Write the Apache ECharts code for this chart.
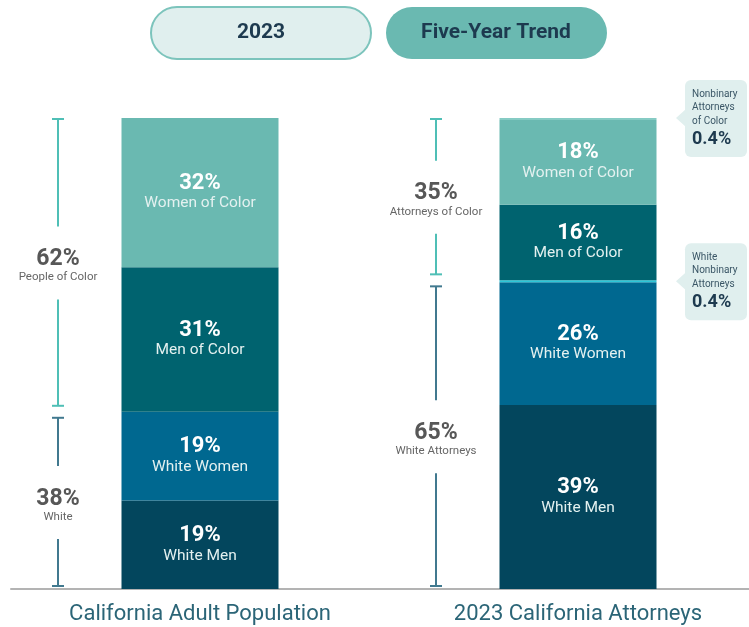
<!DOCTYPE html>
<html>
<head>
<meta charset="utf-8">
<script src="https://cdn.jsdelivr.net/npm/echarts@6/dist/echarts.min.js"></script>
<style>
  html, body { margin: 0; padding: 0; background: #fff; }
  #main { width: 749px; height: 627px; }
</style>
</head>
<body>
<div id="main"></div>
<script>
var categories = ['California Adult Population', '2023 California Attorneys'];
// shares as printed, bottom of the stack first
var whiteMen = [19, 39];
var whiteWomen = [19, 26];
var whiteNonbinary = [0, 0.4];
var menOfColor = [31, 16];
var womenOfColor = [32, 18];
var nonbinaryOfColor = [0, 0.4];
// bracket totals
var whiteShare = [38, 65];
var colorShare = [62, 35];
var whiteNames = ['White', 'White Attorneys'];
var colorNames = ['People of Color', 'Attorneys of Color'];
var calloutTitles = [['Nonbinary', 'Attorneys', 'of Color'], ['White', 'Nonbinary', 'Attorneys']];

var FONT = 'Roboto, "Noto Sans", sans-serif';

var segments = [
    { name: 'White Men', values: whiteMen, color: '#03465d', label: true },
    { name: 'White Women', values: whiteWomen, color: '#006890', label: true },
    { name: 'White Nonbinary Attorneys', values: whiteNonbinary, color: '#2cc6d8', label: false },
    { name: 'Men of Color', values: menOfColor, color: '#00636f', label: true },
    { name: 'Women of Color', values: womenOfColor, color: '#6ab9b1', label: true },
    { name: 'Nonbinary Attorneys of Color', values: nonbinaryOfColor, color: '#86cbc4', label: false }
];

// 100% stack: each bar is scaled to its own total
var totals = categories.map(function (c, i) {
    return segments.reduce(function (s, seg) { return s + seg.values[i]; }, 0);
});
var share = function (v, i) { return v / totals[i] * 100; };
var whiteTop = categories.map(function (c, i) {
    return share(whiteMen[i] + whiteWomen[i] + whiteNonbinary[i], i);
});

var barSeries = segments.map(function (seg) {
    return {
        type: 'bar',
        name: seg.name,
        stack: 'all',
        barWidth: 157,
        data: seg.values.map(share),
        itemStyle: { color: seg.color },
        label: {
            show: seg.label,
            position: 'inside',
            formatter: function (p) {
                return '{a|' + seg.values[p.dataIndex] + '%}\n{b|' + seg.name + '}';
            },
            rich: {
                a: { fontFamily: FONT, fontSize: 22, fontWeight: 'bold', color: '#ffffff', lineHeight: 22 },
                b: { fontFamily: FONT, fontSize: 15.5, color: '#e4f1f0', lineHeight: 19 }
            }
        },
        emphasis: { disabled: true },
        silent: true
    };
});

var bracketData = [];
categories.forEach(function (c, i) {
    bracketData.push([i, 0, whiteTop[i], whiteShare[i], 0]);
    bracketData.push([i, whiteTop[i], 100, colorShare[i], 1]);
});

function renderBracket(params, api) {
    var cat = api.value(0), kind = api.value(4);
    var lo = api.coord([cat, api.value(1)]);
    var hi = api.coord([cat, api.value(2)]);
    var x = hi[0] - 142;
    var y1 = hi[1] + (api.value(2) >= 99.9 ? 1 : 6);
    var y2 = lo[1] - (api.value(1) <= 0.01 ? 3 : 6);
    var mid = (y1 + y2) / 2;
    var color = kind === 1 ? '#4fbfb6' : '#41798f';
    var line = { stroke: color, lineWidth: 2 };
    var idx = params.dataIndex >> 1;
    return {
        type: 'group',
        children: [
            { type: 'line', shape: { x1: x - 6, y1: y1, x2: x + 6, y2: y1 }, style: line },
            { type: 'line', shape: { x1: x, y1: y1, x2: x, y2: mid - 36 }, style: line },
            { type: 'line', shape: { x1: x, y1: mid + 37, x2: x, y2: y2 }, style: line },
            { type: 'line', shape: { x1: x - 6, y1: y2, x2: x + 6, y2: y2 }, style: line },
            {
                type: 'text',
                style: {
                    x: x, y: mid - 3, text: api.value(3) + '%',
                    font: 'bold 23px ' + FONT, fill: '#575757',
                    align: 'center', verticalAlign: 'middle'
                }
            },
            {
                type: 'text',
                style: {
                    x: x, y: mid + 15, text: kind === 1 ? colorNames[idx] : whiteNames[idx],
                    font: '11.5px ' + FONT, fill: '#666666',
                    align: 'center', verticalAlign: 'middle'
                }
            }
        ]
    };
}

var calloutData = [
    [1, 100],
    [1, share(whiteMen[1] + whiteWomen[1] + whiteNonbinary[1] / 2, 1)]
];

function renderCallout(params, api) {
    var p = api.coord([api.value(0), api.value(1)]);
    var bx = p[0] + 107, top = p[1] - 38;
    var fill = '#e0efee';
    var lines = calloutTitles[params.dataIndex];
    var children = [
        { type: 'rect', shape: { x: bx, y: top, width: 62, height: 77, r: 6 }, style: { fill: fill } },
        { type: 'polygon', shape: { points: [[bx + 1, p[1] - 9], [bx - 9, p[1]], [bx + 1, p[1] + 9]] }, style: { fill: fill } }
    ];
    lines.forEach(function (t, k) {
        children.push({
            type: 'text',
            style: {
                x: bx + 7, y: top + 14 + k * 13.5, text: t,
                font: '10px ' + FONT, fill: '#3a5666', verticalAlign: 'middle'
            }
        });
    });
    children.push({
        type: 'text',
        style: {
            x: bx + 7, y: top + 59, text: '0.4%',
            font: 'bold 18px ' + FONT, fill: '#1d3a4f', verticalAlign: 'middle'
        }
    });
    return { type: 'group', children: children };
}

var chart = echarts.init(document.getElementById('main'));
chart.setOption({
    animation: false,
    backgroundColor: '#ffffff',
    grid: { left: 11, width: 756, top: 118, bottom: 38, containLabel: false, outerBoundsMode: 'none' },
    xAxis: {
        type: 'category',
        data: categories,
        axisTick: { show: false },
        axisLine: { lineStyle: { color: '#b3b3b3', width: 2 } },
        axisLabel: { margin: 14, fontFamily: FONT, fontSize: 22, color: '#2b6577' }
    },
    yAxis: { type: 'value', min: 0, max: 100, show: false },
    graphic: [
        {
            type: 'group',
            children: [
                { type: 'rect', shape: { x: 151, y: 7, width: 220, height: 52, r: 26 }, style: { fill: '#e0efee', stroke: '#7cc4bc', lineWidth: 2 } },
                { type: 'text', style: { x: 261, y: 33, text: '2023', font: 'bold 21px ' + FONT, fill: '#1d3a4f', align: 'center', verticalAlign: 'middle' } },
                { type: 'rect', shape: { x: 386, y: 7, width: 221, height: 52, r: 26 }, style: { fill: '#6ab9b1' } },
                { type: 'text', style: { x: 496, y: 33, text: 'Five-Year Trend', font: 'bold 21px ' + FONT, fill: '#1d3a4f', align: 'center', verticalAlign: 'middle' } }
            ]
        }
    ],
    series: barSeries.concat([
        {
            type: 'custom',
            name: 'brackets',
            renderItem: renderBracket,
            data: bracketData,
            encode: { x: 0, y: [1, 2] },
            silent: true,
            z: 5
        },
        {
            type: 'custom',
            name: 'callouts',
            renderItem: renderCallout,
            data: calloutData,
            encode: { x: 0, y: 1 },
            silent: true,
            z: 5
        }
    ])
});
</script>
</body>
</html>
